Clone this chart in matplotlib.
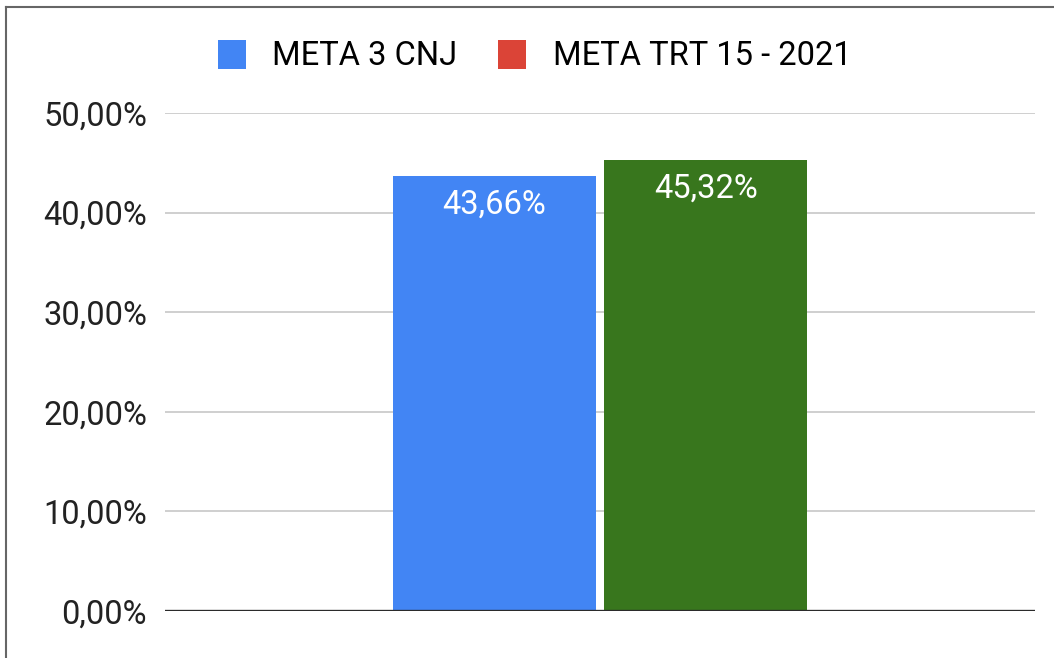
import matplotlib.pyplot as plt
from matplotlib.patches import Patch
from matplotlib.lines import Line2D

plt.rcParams["font.family"] = ["Roboto", "DejaVu Sans"]

series = ["META 3 CNJ", "META TRT 15 - 2021"]
values = [0.4366, 0.4532]
bar_colors = ["#4285F4", "#38761D"]
legend_colors = ["#4285F4", "#DB4437"]
positions = [-0.5, 0.5]
yticks = [0.0, 0.1, 0.2, 0.3, 0.4, 0.5]


def pct(v):
    return f"{v * 100:.2f}%".replace(".", ",")


fig = plt.figure(figsize=(10.54, 6.58), dpi=100)
ax = fig.add_axes([0.1565, 0.0714, 0.8255, 0.7569])

bars = ax.bar(positions, values, width=0.965, color=bar_colors, zorder=3)
for b, v in zip(bars, values):
    ax.annotate(pct(v), (b.get_x() + b.get_width() / 2, v),
                xytext=(0, -29), textcoords="offset pixels",
                ha="center", va="center", color="white", fontsize=23.5)

ax.set_xlim(-2.06, 2.06)
ax.set_ylim(0, 0.5)
ax.set_yticks(yticks)
ax.set_yticklabels([pct(t) for t in yticks])
ax.set_xticks([])
ax.tick_params(axis="y", length=0, pad=13, labelsize=23.5, labelcolor="#222222")
ax.grid(axis="y", color="#cccccc", linewidth=1.3, zorder=0)
for s in ax.spines.values():
    s.set_visible(False)
ax.axhline(0, color="#2b2b2b", linewidth=2.4, zorder=4)

handles = [Patch(facecolor=c, edgecolor="none") for c in legend_colors]
fig.legend(handles, series, loc="center", bbox_to_anchor=(0.507, 0.915),
           ncol=2, frameon=False, fontsize=23.5, handlelength=0.87, handleheight=1.0,
           handletextpad=0.8, columnspacing=1.25, borderpad=0)

# screenshot frame
fig.add_artist(Line2D([0.0057, 1.0], [0.989, 0.989], color="#666666", linewidth=1.5))
fig.add_artist(Line2D([0.0057, 0.0057], [0.0, 0.989], color="#666666", linewidth=1.5))

fig.savefig("out.png", dpi=100)
